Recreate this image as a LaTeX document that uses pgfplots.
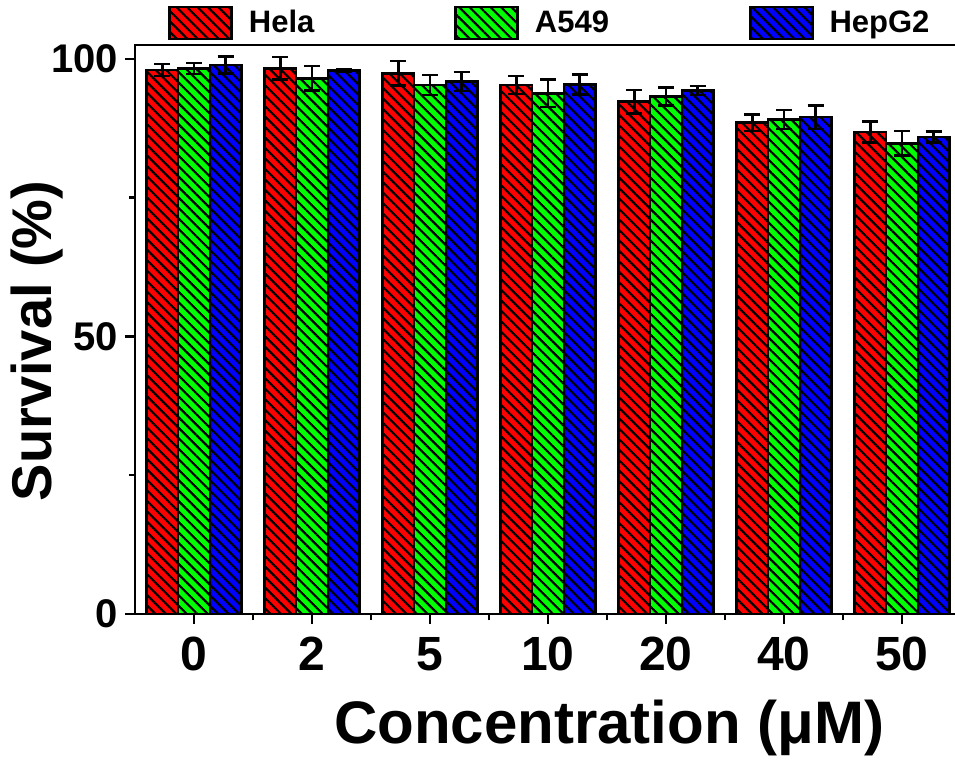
\documentclass[border=0pt]{standalone}
\usepackage{fontspec}
\setmainfont{Liberation Sans}
\usepackage{pgfplots}
\pgfplotsset{compat=1.18}
\usetikzlibrary{patterns.meta}

\definecolor{cred}{RGB}{255,0,0}
\definecolor{cgreen}{RGB}{0,255,0}
\definecolor{cblue}{RGB}{0,0,255}

\pgfplotsset{
  hatched/.style={
    draw=black, line width=1.25pt, fill=#1,
    postaction={pattern={Lines[angle=-45,distance=3.7pt,line width=1.1pt]}, pattern color=black},
    legend image code/.code={\draw[##1] (0pt,-8pt) rectangle (31pt,8pt);},
    error bars/y dir=both, error bars/y explicit,
    error bars/error bar style={line width=1.25pt, black},
    error bars/error mark options={rotate=90, mark size=4pt, line width=1.25pt, black},
  },
}

\begin{document}
\begin{tikzpicture}
\useasboundingbox (0,0) rectangle (477.5pt,381pt);
\begin{axis}[
  at={(67.5pt,74pt)}, anchor=south west,
  scale only axis, width=413pt, height=284.5pt,
  ybar, bar width=0.267,
  xmin=-0.5, xmax=6.5, ymin=0, ymax=102.5,
  axis line style={line width=1.25pt},
  every tick/.style={line width=1.25pt, black},
  tick align=outside, xtick pos=bottom, ytick pos=left,
  major tick length=5pt, minor tick length=3pt,
  xtick={0,...,6}, minor xtick={0.5,1.5,...,5.5},
  xticklabels={0,2,5,10,20,40,50},
  ytick={0,50,100}, minor ytick={25,75},
  /pgf/number format/assume math mode=true,
  xticklabel style={font=\fontsize{24}{24}\selectfont\bfseries, yshift=-3pt},
  yticklabel style={font=\fontsize{20}{20}\selectfont\bfseries},
  xlabel={Concentration (μM)},
  ylabel={Survival (\%)},
  xlabel style={font=\fontsize{30}{30}\selectfont\bfseries, at={(axis description cs:0.574,-0.2)}, anchor=center},
  ylabel style={font=\fontsize{28}{28}\selectfont\bfseries, at={(axis description cs:-0.1186,0.48)}, anchor=center},
  legend columns=3,
  legend style={at={(axis description cs:0.04,1.0387)}, anchor=west, draw=none, fill=none,
    inner sep=0pt, font=\fontsize{15.5}{15.5}\selectfont\bfseries,
    /tikz/every odd column/.append style={column sep=6pt},
    /tikz/every even column/.append style={column sep=68pt}},
]
\addplot[hatched=cred, bar shift=-0.267] coordinates {
  (0,98.0) +- (0,1.1)
  (1,98.3) +- (0,2.0)
  (2,97.4) +- (0,2.2)
  (3,95.3) +- (0,1.6)
  (4,92.3) +- (0,2.1)
  (5,88.5) +- (0,1.5)
  (6,86.8) +- (0,1.9)
};
\addplot[hatched=cgreen, bar shift=0] coordinates {
  (0,98.3) +- (0,1.0)
  (1,96.5) +- (0,2.2)
  (2,95.3) +- (0,1.8)
  (3,93.8) +- (0,2.5)
  (4,93.2) +- (0,1.6)
  (5,89.1) +- (0,1.7)
  (6,84.8) +- (0,2.2)
};
\addplot[hatched=cblue, bar shift=0.267] coordinates {
  (0,98.9) +- (0,1.5)
  (1,97.9) +- (0,0.3)
  (2,95.9) +- (0,1.7)
  (3,95.4) +- (0,1.8)
  (4,94.3) +- (0,0.8)
  (5,89.5) +- (0,2.1)
  (6,85.9) +- (0,1.0)
};
\legend{Hela,A549,HepG2}
\end{axis}
\end{tikzpicture}
\end{document}
